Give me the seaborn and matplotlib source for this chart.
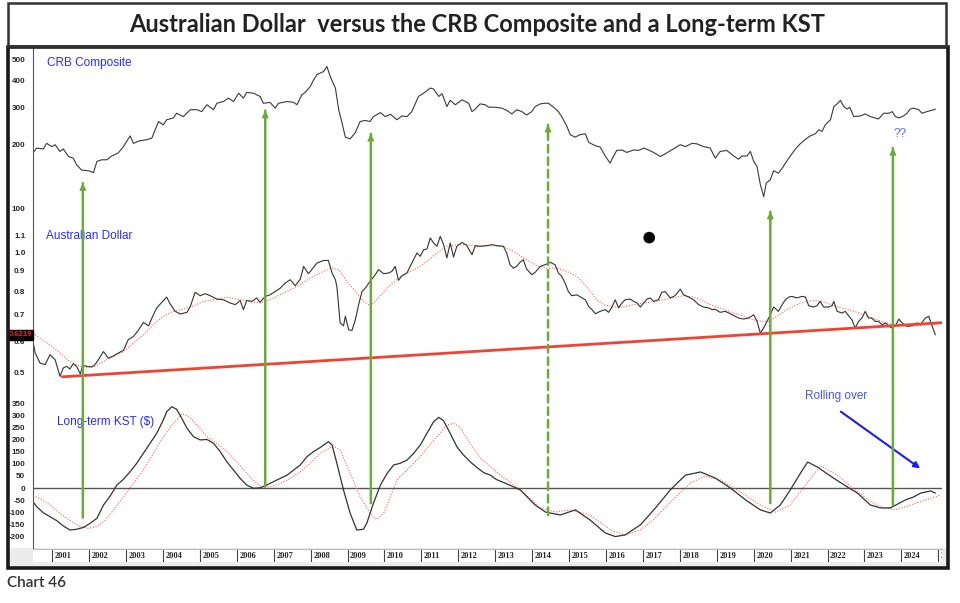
import matplotlib
matplotlib.use("Agg")
import matplotlib.pyplot as plt
import matplotlib.transforms as mtransforms
from matplotlib.patches import Rectangle, ConnectionPatch
from matplotlib.ticker import FixedLocator, NullFormatter
import seaborn as sns

# ---- CRB Composite ----
crb_year = [2000.48, 2000.58, 2000.76, 2000.85, 2000.99, 2001.08, 2001.21, 2001.30, 2001.44, 2001.57,
            2001.66, 2001.80, 2001.98, 2002.12, 2002.21, 2002.34, 2002.48, 2002.61, 2002.79, 2002.93,
            2003.11, 2003.20, 2003.38, 2003.56, 2003.70, 2003.88, 2004.01, 2004.10, 2004.28, 2004.37,
            2004.55, 2004.74, 2004.92, 2005.05, 2005.19, 2005.37, 2005.46, 2005.64, 2005.77, 2005.91,
            2006.05, 2006.18, 2006.27, 2006.45, 2006.63, 2006.72, 2006.90, 2007.04, 2007.13, 2007.36,
            2007.54, 2007.63, 2007.76, 2007.85, 2007.99, 2008.08, 2008.17, 2008.26, 2008.35, 2008.44,
            2008.53, 2008.67, 2008.76, 2008.85, 2008.94, 2009.07, 2009.21, 2009.34, 2009.48, 2009.61,
            2009.70, 2009.89, 2010.02, 2010.16, 2010.34, 2010.47, 2010.61, 2010.74, 2010.92, 2011.06,
            2011.24, 2011.33, 2011.47, 2011.56, 2011.69, 2011.78, 2011.92, 2012.10, 2012.28, 2012.37,
            2012.46, 2012.59, 2012.73, 2012.82, 2013.00, 2013.18, 2013.31, 2013.45, 2013.58, 2013.72,
            2013.85, 2013.99, 2014.08, 2014.22, 2014.35, 2014.44, 2014.58, 2014.71, 2014.80, 2014.94,
            2015.03, 2015.16, 2015.30, 2015.44, 2015.53, 2015.71, 2015.84, 2015.98, 2016.11, 2016.20,
            2016.29, 2016.43, 2016.56, 2016.75, 2016.88, 2017.02, 2017.15, 2017.29, 2017.47, 2017.60,
            2017.78, 2018.01, 2018.15, 2018.33, 2018.46, 2018.64, 2018.82, 2018.96, 2019.09, 2019.27,
            2019.46, 2019.59, 2019.68, 2019.82, 2019.91, 2020.00, 2020.09, 2020.18, 2020.22, 2020.27,
            2020.34, 2020.45, 2020.54, 2020.67, 2020.77, 2020.86, 2020.99, 2021.13, 2021.26, 2021.40,
            2021.53, 2021.67, 2021.76, 2021.85, 2021.94, 2022.08, 2022.17, 2022.26, 2022.35, 2022.44,
            2022.53, 2022.60, 2022.71, 2022.89, 2023.02, 2023.16, 2023.29, 2023.38, 2023.52, 2023.66,
            2023.75, 2023.84, 2023.93, 2024.06, 2024.15, 2024.24, 2024.33, 2024.47, 2024.56, 2024.69,
            2024.88, 2024.92]
crb_val = [183, 193, 191, 203, 196, 200, 186, 191, 176, 173,
           161, 152, 151, 148, 167, 170, 170, 177, 183, 196,
           220, 203, 209, 211, 215, 257, 248, 262, 267, 281,
           271, 292, 292, 286, 308, 292, 313, 319, 331, 319,
           349, 331, 352, 349, 337, 313, 316, 297, 313, 319,
           316, 308, 343, 352, 375, 403, 426, 434, 441, 466,
           418, 369, 292, 253, 217, 213, 228, 257, 260, 257,
           271, 283, 271, 278, 262, 273, 271, 286, 337, 349,
           369, 365, 337, 347, 302, 323, 308, 325, 313, 286,
           294, 311, 308, 300, 300, 297, 290, 279, 292, 286,
           276, 286, 302, 311, 313, 313, 300, 286, 271, 244,
           223, 217, 223, 225, 205, 198, 195, 177, 164, 176,
           188, 189, 184, 189, 188, 193, 189, 184, 176, 181,
           189, 200, 196, 203, 202, 196, 193, 173, 186, 188,
           177, 171, 177, 177, 186, 167, 158, 130, 123, 114,
           132, 137, 151, 147, 155, 164, 177, 191, 202, 212,
           220, 225, 235, 231, 248, 262, 302, 311, 323, 302,
           294, 300, 271, 273, 279, 271, 267, 264, 281, 281,
           286, 271, 267, 273, 281, 294, 297, 292, 281, 286,
           292, 294]

# ---- Australian Dollar ----
aud_year = [2000.48, 2000.54, 2000.67, 2000.81, 2000.94, 2001.08, 2001.21, 2001.30, 2001.39, 2001.48,
            2001.57, 2001.66, 2001.76, 2001.83, 2001.94, 2002.07, 2002.16, 2002.25, 2002.39, 2002.52,
            2002.66, 2002.79, 2002.93, 2003.06, 2003.20, 2003.34, 2003.47, 2003.61, 2003.70, 2003.83,
            2003.97, 2004.10, 2004.19, 2004.33, 2004.47, 2004.65, 2004.74, 2004.87, 2005.01, 2005.14,
            2005.28, 2005.46, 2005.64, 2005.82, 2005.96, 2006.09, 2006.18, 2006.27, 2006.41, 2006.54,
            2006.63, 2006.77, 2006.90, 2007.04, 2007.18, 2007.31, 2007.45, 2007.58, 2007.72, 2007.81,
            2007.94, 2008.03, 2008.17, 2008.35, 2008.48, 2008.58, 2008.67, 2008.71, 2008.76, 2008.80,
            2008.89, 2008.94, 2009.03, 2009.12, 2009.21, 2009.30, 2009.39, 2009.48, 2009.61, 2009.75,
            2009.84, 2009.98, 2010.11, 2010.20, 2010.29, 2010.38, 2010.47, 2010.61, 2010.74, 2010.88,
            2010.97, 2011.06, 2011.15, 2011.24, 2011.33, 2011.42, 2011.51, 2011.60, 2011.69, 2011.78,
            2011.87, 2011.96, 2012.10, 2012.23, 2012.37, 2012.46, 2012.59, 2012.77, 2012.91, 2013.04,
            2013.22, 2013.31, 2013.40, 2013.49, 2013.58, 2013.67, 2013.76, 2013.85, 2013.99, 2014.08,
            2014.22, 2014.35, 2014.49, 2014.62, 2014.71, 2014.80, 2014.89, 2014.98, 2015.07, 2015.21,
            2015.35, 2015.44, 2015.53, 2015.62, 2015.71, 2015.84, 2015.98, 2016.07, 2016.16, 2016.25,
            2016.34, 2016.43, 2016.52, 2016.66, 2016.75, 2016.84, 2016.93, 2017.02, 2017.11, 2017.20,
            2017.29, 2017.42, 2017.51, 2017.60, 2017.74, 2017.87, 2018.01, 2018.10, 2018.24, 2018.37,
            2018.51, 2018.64, 2018.78, 2018.87, 2018.96, 2019.09, 2019.23, 2019.37, 2019.50, 2019.59,
            2019.73, 2019.86, 2020.00, 2020.09, 2020.18, 2020.27, 2020.36, 2020.45, 2020.54, 2020.67,
            2020.77, 2020.86, 2020.95, 2021.04, 2021.17, 2021.31, 2021.40, 2021.49, 2021.62, 2021.71,
            2021.80, 2021.89, 2022.03, 2022.12, 2022.17, 2022.26, 2022.39, 2022.48, 2022.57, 2022.66,
            2022.75, 2022.84, 2022.93, 2023.02, 2023.11, 2023.20, 2023.29, 2023.38, 2023.48, 2023.57,
            2023.66, 2023.75, 2023.84, 2023.93, 2024.02, 2024.15, 2024.29, 2024.42, 2024.51, 2024.65,
            2024.74, 2024.83, 2024.92]
aud_val = [0.599, 0.560, 0.529, 0.524, 0.555, 0.539, 0.490, 0.514, 0.519, 0.511,
           0.527, 0.519, 0.497, 0.521, 0.519, 0.517, 0.524, 0.539, 0.565, 0.544,
           0.551, 0.560, 0.569, 0.605, 0.616, 0.640, 0.668, 0.655, 0.685, 0.726,
           0.750, 0.773, 0.744, 0.712, 0.701, 0.708, 0.732, 0.794, 0.779, 0.788,
           0.779, 0.764, 0.761, 0.747, 0.740, 0.758, 0.719, 0.758, 0.754, 0.769,
           0.750, 0.776, 0.783, 0.798, 0.814, 0.838, 0.854, 0.825, 0.857, 0.922,
           0.884, 0.905, 0.940, 0.954, 0.954, 0.888, 0.854, 0.822, 0.732, 0.666,
           0.655, 0.692, 0.640, 0.638, 0.678, 0.740, 0.798, 0.814, 0.846, 0.879,
           0.905, 0.884, 0.888, 0.896, 0.922, 0.851, 0.874, 0.888, 0.940, 0.996,
           0.977, 1.015, 1.019, 1.086, 1.055, 1.035, 1.096, 1.045, 0.968, 1.055,
           0.973, 1.035, 1.059, 1.039, 0.986, 1.039, 1.035, 1.039, 1.045, 1.039,
           1.035, 0.996, 0.931, 0.913, 0.922, 0.944, 0.958, 0.908, 0.879, 0.891,
           0.922, 0.931, 0.944, 0.931, 0.888, 0.871, 0.838, 0.798, 0.779, 0.783,
           0.769, 0.761, 0.732, 0.719, 0.702, 0.712, 0.719, 0.708, 0.730, 0.761,
           0.726, 0.747, 0.761, 0.764, 0.754, 0.747, 0.730, 0.747, 0.764, 0.769,
           0.754, 0.761, 0.794, 0.798, 0.769, 0.779, 0.809, 0.783, 0.773, 0.761,
           0.740, 0.730, 0.726, 0.719, 0.721, 0.708, 0.712, 0.702, 0.692, 0.685,
           0.681, 0.685, 0.698, 0.672, 0.628, 0.647, 0.672, 0.698, 0.730, 0.712,
           0.740, 0.761, 0.773, 0.776, 0.769, 0.776, 0.773, 0.735, 0.730, 0.735,
           0.754, 0.730, 0.730, 0.735, 0.754, 0.712, 0.705, 0.712, 0.694, 0.678,
           0.647, 0.672, 0.685, 0.712, 0.685, 0.685, 0.672, 0.672, 0.659, 0.666,
           0.653, 0.647, 0.655, 0.681, 0.666, 0.653, 0.655, 0.666, 0.659, 0.685,
           0.692, 0.655, 0.622]

# moving average of the Australian Dollar (red dotted)
aud_ma_year = [2000.48, 2000.67, 2000.94, 2001.21, 2001.48, 2001.76, 2001.98, 2002.16, 2002.39, 2002.66,
               2002.93, 2003.20, 2003.47, 2003.74, 2004.01, 2004.28, 2004.55, 2004.83, 2005.10, 2005.46,
               2005.73, 2006.00, 2006.27, 2006.63, 2006.90, 2007.27, 2007.63, 2007.99, 2008.35, 2008.58,
               2008.76, 2008.98, 2009.25, 2009.43, 2009.61, 2009.79, 2010.07, 2010.34, 2010.61, 2010.88,
               2011.15, 2011.42, 2011.69, 2011.96, 2012.23, 2012.50, 2012.86, 2013.22, 2013.49, 2013.85,
               2014.13, 2014.40, 2014.67, 2014.94, 2015.21, 2015.39, 2015.57, 2015.75, 2015.93, 2016.20,
               2016.47, 2016.75, 2017.02, 2017.29, 2017.56, 2017.83, 2018.10, 2018.37, 2018.64, 2018.91,
               2019.18, 2019.46, 2019.73, 2020.00, 2020.22, 2020.40, 2020.63, 2020.90, 2021.17, 2021.44,
               2021.71, 2021.98, 2022.26, 2022.53, 2022.80, 2023.07, 2023.34, 2023.61, 2023.88, 2024.15,
               2024.42, 2024.69, 2024.97]
aud_ma_val = [0.628, 0.610, 0.587, 0.560, 0.534, 0.519, 0.514, 0.519, 0.534, 0.549,
              0.565, 0.593, 0.622, 0.659, 0.692, 0.712, 0.721, 0.735, 0.754, 0.764,
              0.772, 0.764, 0.754, 0.747, 0.761, 0.791, 0.822, 0.862, 0.896, 0.913,
              0.905, 0.846, 0.791, 0.754, 0.735, 0.761, 0.814, 0.857, 0.888, 0.913,
              0.949, 0.996, 1.035, 1.045, 1.045, 1.035, 1.039, 1.035, 1.005, 0.958,
              0.926, 0.913, 0.913, 0.896, 0.871, 0.838, 0.798, 0.761, 0.740, 0.730,
              0.730, 0.740, 0.747, 0.754, 0.761, 0.769, 0.779, 0.773, 0.754, 0.735,
              0.721, 0.705, 0.692, 0.678, 0.672, 0.672, 0.692, 0.719, 0.740, 0.754,
              0.758, 0.747, 0.730, 0.721, 0.708, 0.692, 0.678, 0.666, 0.659, 0.655,
              0.655, 0.659, 0.659]

# long-term up trendline on the AUD
trend_year = [2001.27, 2025.10]
trend_val = [0.4885, 0.667]
last_aud = 0.6219

# ---- Long-term KST ----
kst_year = [2000.48, 2000.58, 2000.76, 2000.94, 2001.12, 2001.30, 2001.48, 2001.66, 2001.85, 2002.03,
            2002.21, 2002.39, 2002.57, 2002.75, 2002.93, 2003.11, 2003.29, 2003.47, 2003.65, 2003.83,
            2004.01, 2004.10, 2004.24, 2004.37, 2004.51, 2004.65, 2004.83, 2005.01, 2005.19, 2005.37,
            2005.55, 2005.73, 2005.91, 2006.09, 2006.27, 2006.45, 2006.63, 2006.81, 2006.99, 2007.18,
            2007.36, 2007.54, 2007.72, 2007.90, 2008.08, 2008.26, 2008.48, 2008.58, 2008.71, 2008.89,
            2009.07, 2009.25, 2009.43, 2009.52, 2009.70, 2009.89, 2010.07, 2010.25, 2010.43, 2010.61,
            2010.79, 2010.97, 2011.15, 2011.33, 2011.47, 2011.60, 2011.78, 2011.96, 2012.14, 2012.32,
            2012.50, 2012.69, 2012.87, 2013.03, 2013.27, 2013.68, 2014.08, 2014.36, 2014.76, 2015.17,
            2015.57, 2015.98, 2016.25, 2016.52, 2016.93, 2017.34, 2017.74, 2018.15, 2018.56, 2018.96,
            2019.37, 2019.78, 2020.18, 2020.45, 2020.72, 2020.99, 2021.27, 2021.46, 2021.73, 2022.16,
            2022.54, 2022.81, 2023.16, 2023.43, 2023.70, 2024.11, 2024.33, 2024.52, 2024.79, 2024.92]
kst_val = [-56, -77, -102, -118, -134, -156, -173, -170, -162, -145,
           -125, -70, -33, 12, 36, 67, 102, 143, 184, 225,
           280, 314, 335, 324, 287, 246, 211, 198, 200, 184,
           150, 108, 74, 40, 12, -1, 1, 12, 26, 40,
           53, 74, 95, 129, 150, 167, 191, 177, 102, -8,
           -104, -173, -170, -145, -63, 12, 60, 95, 102, 115,
           143, 177, 225, 273, 291, 277, 225, 170, 136, 108,
           85, 63, 53, 35, 20, -8, -70, -99, -111, -90,
           -132, -185, -200, -193, -152, -82, -8, 53, 66, 41,
           0, -49, -90, -103, -70, -8, 62, 107, 86, 41,
           4, -21, -70, -82, -82, -49, -37, -21, -12, -21]

kst_sig_year = [2000.48, 2000.67, 2000.94, 2001.21, 2001.48, 2001.76, 2001.98, 2002.21, 2002.43, 2002.66,
                2002.93, 2003.20, 2003.47, 2003.74, 2004.01, 2004.28, 2004.51, 2004.69, 2004.92, 2005.19,
                2005.46, 2005.73, 2006.00, 2006.27, 2006.54, 2006.72, 2006.90, 2007.18, 2007.45, 2007.72,
                2007.99, 2008.26, 2008.62, 2008.80, 2009.07, 2009.34, 2009.61, 2009.79, 2009.98, 2010.16,
                2010.34, 2010.61, 2010.88, 2011.15, 2011.42, 2011.69, 2011.87, 2012.05, 2012.32, 2012.60,
                2012.87, 2013.14, 2013.68, 2014.22, 2014.63, 2015.03, 2015.57, 2016.12, 2016.52, 2016.93,
                2017.34, 2017.74, 2018.29, 2018.69, 2019.10, 2019.64, 2020.18, 2020.59, 2020.99, 2021.40,
                2021.81, 2022.21, 2022.62, 2023.03, 2023.43, 2023.84, 2024.25, 2024.65, 2025.06]
kst_sig_val = [-33, -43, -70, -104, -134, -159, -166, -159, -134, -91,
               -36, 19, 74, 143, 211, 266, 305, 296, 259, 211,
               184, 150, 108, 60, 19, 3, 5, 19, 40, 67,
               102, 143, 173, 156, 60, -36, -104, -129, -104, -36,
               33, 74, 115, 163, 211, 259, 266, 250, 184, 122,
               88, 53, -8, -82, -99, -90, -111, -173, -193, -173,
               -123, -58, 21, 49, 33, -16, -70, -99, -70, 12,
               91, 58, 8, -41, -78, -90, -70, -49, -29]

# green arrows: date, KST start, CRB end
arrow_year = [2001.83, 2006.77, 2009.63, 2014.43, 2020.45, 2023.77]
arrow_kst = [-122, 5, -63, -111, -62, -70]
arrow_crb = [132, 289, 225, 248, 97, 193]
arrow_dashed = [False, False, False, True, False, False]

years = list(range(2001, 2026))
crb_ticks = [100, 200, 300, 400, 500]
aud_ticks = [0.5, 0.6, 0.7, 0.8, 0.9, 1.0, 1.1]
kst_ticks = list(range(-200, 351, 50))

# ---------------- drawing ----------------
sns.set_style("white")
plt.rcParams["font.family"] = ["Liberation Sans", "DejaVu Sans"]

W_PX, H_PX = 960, 603
fig = plt.figure(figsize=(9.6, 6.03), dpi=100)


def fx(px):
    return px / W_PX


def fy(py):
    return 1 - py / H_PX


left, right = 33, 942
ax_crb = fig.add_axes([fx(left), fy(225), fx(right - left), (225 - 47) / H_PX])
ax_aud = fig.add_axes([fx(left), fy(395), fx(right - left), (395 - 225) / H_PX])
ax_kst = fig.add_axes([fx(left), fy(548), fx(right - left), (548 - 395) / H_PX])

green = "#6aab3a"
blue = "#2b2bff"
tick_font = dict(family="Liberation Sans", weight="bold", size=5.8)

for ax in (ax_crb, ax_aud, ax_kst):
    ax.set_facecolor("none")
    for s in ("top", "right", "bottom"):
        ax.spines[s].set_visible(False)
    ax.spines["left"].set_color("#555555")
    ax.spines["left"].set_linewidth(0.8)
    ax.tick_params(axis="x", bottom=False, labelbottom=False)
    ax.tick_params(axis="y", which="major", direction="out", length=3, width=0.7,
                   color="#555555", pad=2.5)
    ax.tick_params(axis="y", which="minor", direction="out", length=1.5, width=0.5,
                   color="#777777")
    ax.set_xlim(2000.48, 2025.10)

# CRB panel
ax_crb.set_yscale("log")
sns.lineplot(x=crb_year, y=crb_val, ax=ax_crb, color="#3a3a3a", lw=0.8)
ax_crb.set_ylim(84, 575)
ax_crb.yaxis.set_major_locator(FixedLocator(crb_ticks))
ax_crb.set_yticklabels([str(t) for t in crb_ticks], fontdict=tick_font)
ax_crb.yaxis.set_minor_locator(FixedLocator(list(range(90, 200, 10)) + list(range(220, 560, 20))))
ax_crb.yaxis.set_minor_formatter(NullFormatter())
ax_crb.text(0.0154, 0.91, "CRB Composite", transform=ax_crb.transAxes, color=blue,
            fontsize=8.5, va="center")
ax_crb.text(2023.95, 225, "??", color="#5a6cff", fontsize=8.5, ha="center", va="center")

# AUD panel
ax_aud.set_yscale("log")
sns.lineplot(x=aud_ma_year, y=aud_ma_val, ax=ax_aud, color="#ff5c5c", lw=0.8,
             linestyle=(0, (1, 1.5)))
sns.lineplot(x=aud_year, y=aud_val, ax=ax_aud, color="#333333", lw=0.8)
sns.lineplot(x=trend_year, y=trend_val, ax=ax_aud, color="#ee4433", lw=2)
sns.scatterplot(x=[2017.17], y=[1.088], ax=ax_aud, color="black", s=70, edgecolor="none")
ax_aud.set_ylim(0.44, 1.17)
ax_aud.yaxis.set_major_locator(FixedLocator(aud_ticks))
ax_aud.set_yticklabels([f"{t:.1f}" for t in aud_ticks], fontdict=tick_font)
ax_aud.yaxis.set_minor_locator(FixedLocator([0.46, 0.48, 0.52, 0.54, 0.56, 0.58, 0.62, 0.64,
                                              0.66, 0.68, 0.72, 0.74, 0.76, 0.78, 0.82, 0.84,
                                              0.86, 0.88, 0.92, 0.94, 0.96, 0.98, 1.02, 1.04,
                                              1.06, 1.08, 1.12, 1.14, 1.16]))
ax_aud.yaxis.set_minor_formatter(NullFormatter())
ax_aud.text(0.0143, 0.935, "Australian Dollar", transform=ax_aud.transAxes, color=blue,
            fontsize=8.5, va="center")
blend = mtransforms.blended_transform_factory(ax_aud.transAxes, ax_aud.transData)
ax_aud.text(-0.001, last_aud, f"{last_aud:.4f}", transform=blend, ha="right", va="center",
            color="#ff2020", fontsize=5.5, weight="bold", clip_on=False, zorder=10,
            bbox=dict(facecolor="black", edgecolor="black", pad=0.8))

# KST panel
ax_kst.axhline(0, color="#555555", lw=1)
sns.lineplot(x=kst_sig_year, y=kst_sig_val, ax=ax_kst, color="#ff5c5c", lw=0.8,
             linestyle=(0, (1, 1.5)))
sns.lineplot(x=kst_year, y=kst_val, ax=ax_kst, color="#333333", lw=0.9)
ax_kst.set_ylim(-247, 383)
ax_kst.yaxis.set_major_locator(FixedLocator(kst_ticks))
ax_kst.set_yticklabels([str(t) for t in kst_ticks], fontdict=tick_font)
ax_kst.yaxis.set_minor_locator(FixedLocator([v for v in range(-240, 381, 10) if v % 50 != 0]))
ax_kst.yaxis.set_minor_formatter(NullFormatter())
ax_kst.text(0.0264, 0.824, "Long-term KST ($)", transform=ax_kst.transAxes, color=blue,
            fontsize=8.5, va="center")
ax_kst.text(2022.24, 379, "Rolling over", color="#4657f5", fontsize=8.5, ha="center",
            va="center")
ax_kst.annotate("", xy=(2024.57, 74), xytext=(2022.30, 321),
                arrowprops=dict(arrowstyle="-|>", color="#1a1aff", lw=1.5, mutation_scale=9))

for ax in (ax_crb, ax_aud, ax_kst):
    ax.set_xlabel("")
    ax.set_ylabel("")

# green arrows through the three panels
for yr, k0, c1, dashed in zip(arrow_year, arrow_kst, arrow_crb, arrow_dashed):
    con = ConnectionPatch(xyA=(yr, k0), coordsA=ax_kst.transData,
                          xyB=(yr, c1), coordsB=ax_crb.transData,
                          arrowstyle="-", color=green, lw=1.8,
                          linestyle=(0, (3, 2)) if dashed else "-", zorder=6)
    fig.add_artist(con)
    ax_crb.annotate("", xy=(yr, c1), xytext=(0, -8), textcoords="offset points",
                    arrowprops=dict(arrowstyle="-|>", color=green, lw=1.2, mutation_scale=9,
                                    shrinkA=0, shrinkB=0), zorder=7)

# year strip along the bottom
fig.add_artist(Rectangle((fx(8), fy(567)), fx(940), 19 / H_PX, transform=fig.transFigure,
                         facecolor="#ececec", edgecolor="none", zorder=-1))
ax_x = fig.add_axes([fx(left), fy(562), fx(right - left), 13 / H_PX])
ax_x.set_xlim(2000.48, 2025.10)
ax_x.set_ylim(0, 1)
ax_x.set_xticks([])
ax_x.set_yticks([])
for s in ("left", "right", "bottom"):
    ax_x.spines[s].set_visible(False)
ax_x.spines["top"].set_color("#bbbbbb")
for yr in years:
    ax_x.axvline(yr, color="#444444", lw=0.8)
    ax_x.text(yr + 0.07, 0.45, str(yr), fontsize=6, family="Liberation Serif",
              weight="bold", va="center", ha="left", clip_on=True)

# frames, title and caption
fig.add_artist(Rectangle((fx(8), fy(568)), fx(940), (568 - 47) / H_PX, transform=fig.transFigure,
                         fill=False, edgecolor="#1a1a1a", lw=2.6, zorder=8))
fig.add_artist(Rectangle((fx(8), fy(46)), fx(938), 43 / H_PX, transform=fig.transFigure,
                         fill=False, edgecolor="#333333", lw=1.8, zorder=8))
fig.text(fx(477), fy(25), "Australian Dollar  versus the CRB Composite and a Long-term KST",
         ha="center", va="center", fontsize=17, family="Lato", weight="bold", color="#222222")
fig.text(fx(7), fy(583), "Chart 46", ha="left", va="center", fontsize=11, family="Lato",
         weight="semibold", color="#333333")

fig.savefig("out.png", dpi=100)
